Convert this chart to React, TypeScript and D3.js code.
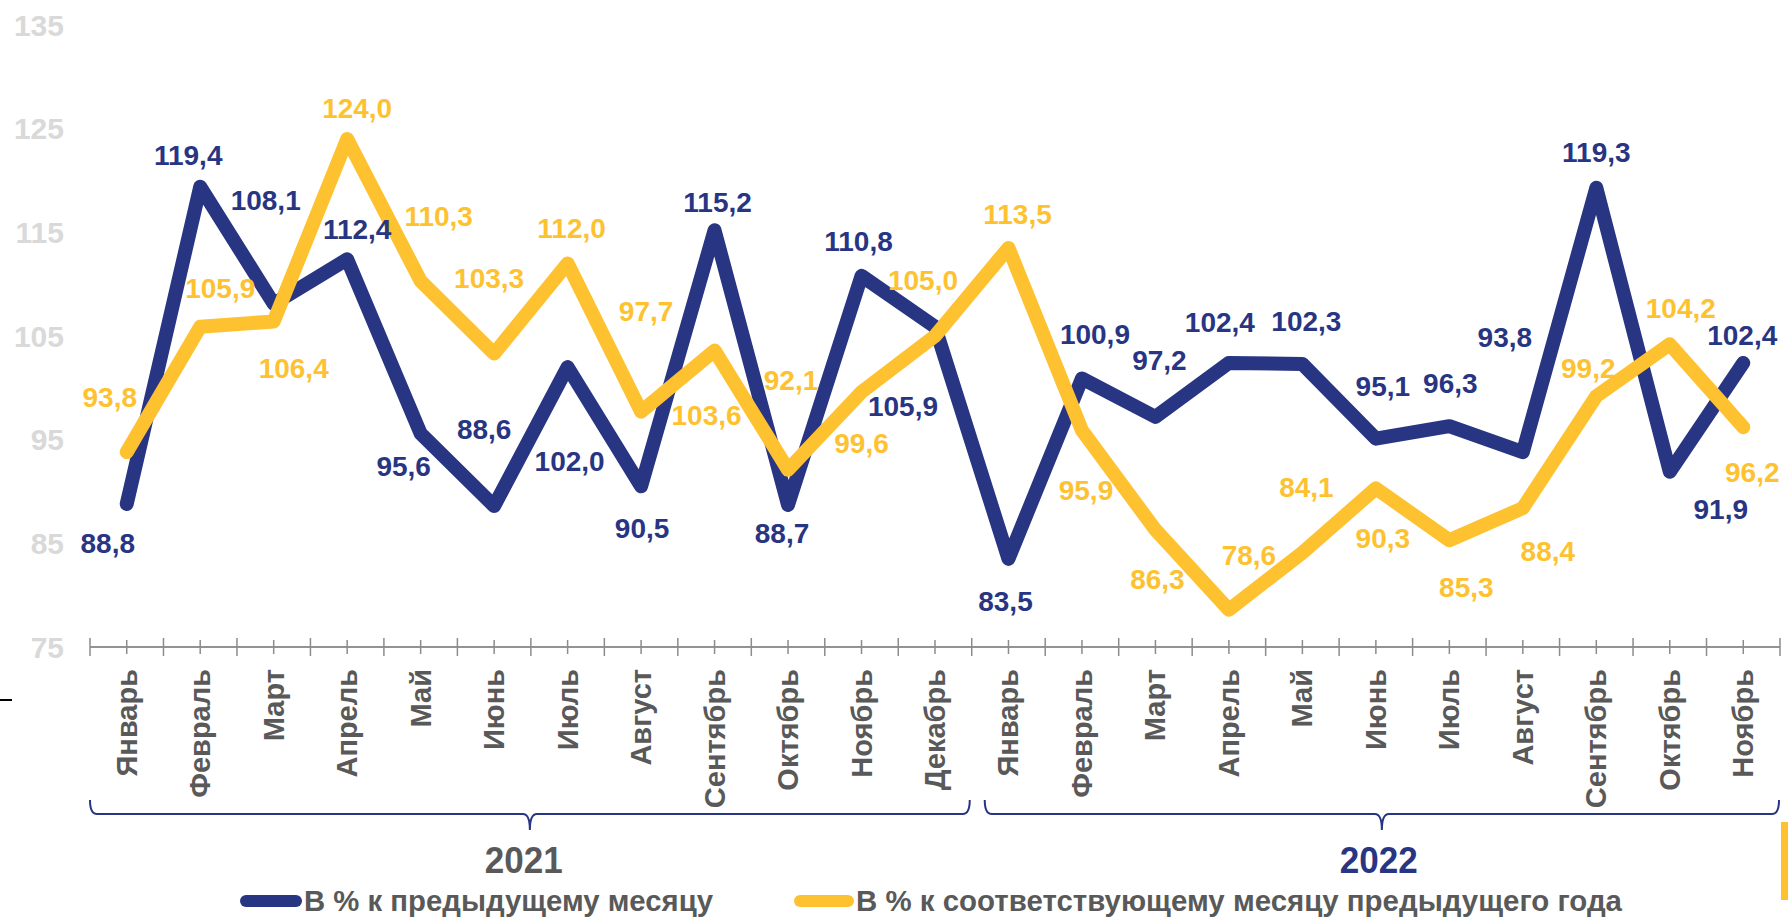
import React from "react";
import * as d3 from "d3";

const months = [
  "Январь", "Февраль", "Март", "Апрель", "Май", "Июнь", "Июль", "Август", "Сентябрь", "Октябрь", "Ноябрь", "Декабрь",
  "Январь", "Февраль", "Март", "Апрель", "Май", "Июнь", "Июль", "Август", "Сентябрь", "Октябрь", "Ноябрь",
];
const years = ["2021", "2022"];
const yearCounts = [12, 11];

const prevMonth = [
  88.8, 119.4, 108.1, 112.4, 95.6, 88.6, 102.0, 90.5, 115.2, 88.7, 110.8, 105.9,
  83.5, 100.9, 97.2, 102.4, 102.3, 95.1, 96.3, 93.8, 119.3, 91.9, 102.4,
];
const prevYear = [
  93.8, 105.9, 106.4, 124.0, 110.3, 103.3, 112.0, 97.7, 103.6, 92.1, 99.6, 105.0,
  113.5, 95.9, 86.3, 78.6, 84.1, 90.3, 85.3, 88.4, 99.2, 104.2, 96.2,
];
const yTicks = [75, 85, 95, 105, 115, 125, 135];
const legendLabels = ["В % к предыдущему месяцу", "В % к соответствующему месяцу предыдущего года"];

// label offsets (placement of value labels relative to their points)
const blueOffsets: [number, number][] = [
  [-19, 40], [-12, -31], [-8, -103], [10, -30], [-17, 33], [-10, -77], [2, 94], [1, 42], [3, -28], [-6, 29], [-3, -34], [-32, 80],
  [-3, 43], [13, -44], [4, -56], [-9, -40], [4, -42], [7, -52], [1, -43], [-18, -115], [0, -35], [51, 38], [-1, -27],
];
const yellowOffsets: [number, number][] = [
  [-17, -55], [20, -38], [20, 47], [10, -31], [18, -65], [-5, -75], [4, -35], [5, -100], [-8, 65], [3, -89], [0, 52], [-12, -56],
  [9, -33], [4, 60], [2, 50], [20, -54], [4, -65], [7, 50], [17, 47], [25, 43], [-8, -28], [11, -36], [9, 45],
];

const BLUE = "#283583";
const YELLOW = "#FEC231";
const GRAY_TEXT = "#595959";
const FONT = "'Liberation Sans', Arial, sans-serif";

const fmt = (v: number) => v.toFixed(1).replace(".", ",");

export default function App() {
  const W = 1788, H = 919;
  const x = d3.scaleBand<number>().domain(d3.range(months.length)).range([90, 1780]).padding(0);
  const bw = x.bandwidth();
  const cx = (i: number) => (x(i) as number) + bw / 2;
  const y = d3.scaleLinear().domain([75, 135]).range([647, 25]);
  const line = d3.line<number>().x((_, i) => cx(i)).y((d) => y(d));
  const axisY = y(75);

  const boundaries = d3.range(months.length + 1).map((i) => 90 + i * bw);

  // year brackets
  let start = 0;
  const brackets = years.map((yr, k) => {
    const s = start;
    const e = start + yearCounts[k];
    start = e;
    const x1 = (x(s) as number) + (k === 0 ? 0 : 13);
    const x2 = (x(e - 1) as number) + bw - (k === 0 ? 2 : 1);
    const mid = (x1 + x2) / 2;
    const top = 800, hy = 814, bot = 830;
    const d = `M${x1},${top} Q${x1},${hy} ${x1 + 7},${hy} L${mid - 7},${hy} Q${mid},${hy} ${mid},${bot} Q${mid},${hy} ${mid + 7},${hy} L${x2 - 7},${hy} Q${x2},${hy} ${x2},${top}`;
    return { yr, d, mid, k };
  });

  return (
    <svg width={W} height={H} style={{ position: "absolute", left: 0, top: 0, background: "#fff" }} fontFamily={FONT}>
      {/* y tick labels */}
      {yTicks.map((t) => (
        <text key={t} x={64} y={y(t)} textAnchor="end" dominantBaseline="central" fontSize={30} fontWeight="bold" fill="#d9d9d9">
          {t}
        </text>
      ))}
      {/* x axis */}
      <line x1={90} x2={1780} y1={axisY} y2={axisY} stroke="#6f6f6f" strokeWidth={1.5} />
      {boundaries.map((b, i) => (
        <line key={"b" + i} x1={b} x2={b} y1={axisY - 9} y2={axisY + 9} stroke="#8c8c8c" strokeWidth={1.5} />
      ))}
      {months.map((_, i) => (
        <line key={"c" + i} x1={cx(i)} x2={cx(i)} y1={axisY - 7} y2={axisY + 7} stroke="#8c8c8c" strokeWidth={1.5} />
      ))}
      {months.map((m, i) => (
        <text key={"m" + i} transform={`translate(${cx(i)},669) rotate(-90)`} textAnchor="end" dominantBaseline="central"
          fontSize={29} fontWeight="bold" fill={GRAY_TEXT}>
          {m}
        </text>
      ))}
      {/* brackets */}
      {brackets.map((b) => (
        <g key={b.yr}>
          <path d={b.d} fill="none" stroke={BLUE} strokeWidth={2} />
          <text x={b.k === 0 ? b.mid - 6 : b.mid - 3} y={873} textAnchor="middle" fontSize={37} fontWeight="bold"
            fill={b.k === 0 ? GRAY_TEXT : BLUE} textLength={78} lengthAdjust="spacingAndGlyphs">
            {b.yr}
          </text>
        </g>
      ))}
      {/* lines */}
      <path d={line(prevMonth) || ""} fill="none" stroke={BLUE} strokeWidth={14} strokeLinejoin="round" strokeLinecap="round" />
      <path d={line(prevYear) || ""} fill="none" stroke={YELLOW} strokeWidth={14} strokeLinejoin="round" strokeLinecap="round" />
      {/* labels */}
      {prevMonth.map((v, i) => (
        <text key={"bl" + i} x={cx(i) + blueOffsets[i][0]} y={y(v) + blueOffsets[i][1]} textAnchor="middle" dominantBaseline="central"
          fontSize={28} fontWeight="bold" fill={BLUE}>
          {fmt(v)}
        </text>
      ))}
      {prevYear.map((v, i) => (
        <text key={"yl" + i} x={cx(i) + yellowOffsets[i][0]} y={y(v) + yellowOffsets[i][1]} textAnchor="middle" dominantBaseline="central"
          fontSize={28} fontWeight="bold" fill={YELLOW}>
          {fmt(v)}
        </text>
      ))}
      {/* legend */}
      <line x1={246} x2={296} y1={901} y2={901} stroke={BLUE} strokeWidth={12} strokeLinecap="round" />
      <text x={304} y={911} fontSize={29} fontWeight="bold" fill={GRAY_TEXT} textLength={409} lengthAdjust="spacingAndGlyphs">{legendLabels[0]}</text>
      <line x1={800} x2={848} y1={901} y2={901} stroke={YELLOW} strokeWidth={12} strokeLinecap="round" />
      <text x={856} y={911} fontSize={29} fontWeight="bold" fill={GRAY_TEXT} textLength={766} lengthAdjust="spacingAndGlyphs">{legendLabels[1]}</text>
      {/* decorations */}
      <line x1={0} x2={12} y1={700} y2={700} stroke="#000" strokeWidth={2} />
      <rect x={1781} y={822} width={7} height={78} fill={YELLOW} />
    </svg>
  );
}
